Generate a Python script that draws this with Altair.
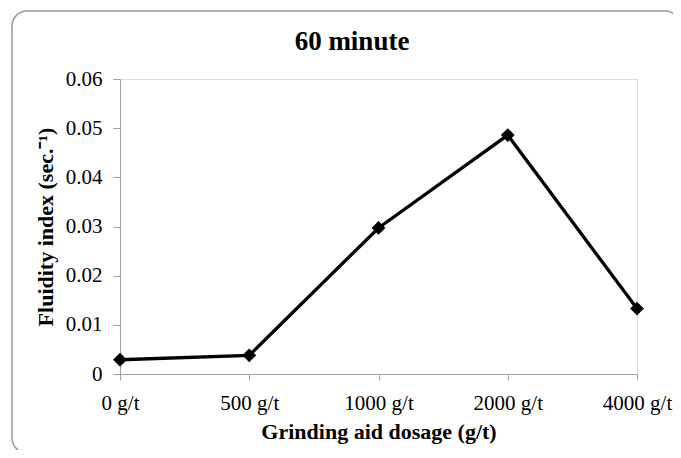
import altair as alt
import pandas as pd

categories = ["0 g/t", "500 g/t", "1000 g/t", "2000 g/t", "4000 g/t"]
values = [0.0029, 0.0038, 0.0297, 0.0486, 0.0133]
y_ticks = [0, 0.01, 0.02, 0.03, 0.04, 0.05, 0.06]
title_text = "60 minute"

df = pd.DataFrame({"dosage": categories, "fi": values})

FONT = "Liberation Serif"

x_enc = alt.X("dosage:N", sort=categories,
              scale=alt.Scale(type="point", padding=0),
              axis=alt.Axis(title="Grinding aid dosage (g/t)", labelAngle=0,
                            titleFontSize=22, titleFontWeight="bold", titleFont=FONT,
                            titleColor="black", titlePadding=8,
                            labelFont=FONT, labelFontSize=21, labelColor="#000",
                            labelPadding=12, tickSize=6, tickColor="#a0a0a0",
                            domainColor="#a0a0a0", grid=False))
y_enc = alt.Y("fi:Q", scale=alt.Scale(domain=[0, 0.06], nice=False),
              axis=alt.Axis(title="Fluidity index (sec.⁻¹)", values=y_ticks,
                            format="~g",
                            titleFontSize=22, titleFontWeight="bold", titleFont=FONT,
                            titleColor="black", titlePadding=8,
                            labelFont=FONT, labelFontSize=21, labelColor="#000",
                            labelPadding=11, tickSize=7, tickColor="#a0a0a0",
                            domainColor="#a0a0a0", grid=False))

line = alt.Chart(df).mark_line(color="black", strokeWidth=3.3).encode(x=x_enc, y=y_enc)
pts = alt.Chart(df).mark_point(shape="diamond", filled=True, color="black",
                               size=190, opacity=1).encode(x=x_enc, y=y_enc)

single = alt.Data(values=[{"t": title_text}])

frame = alt.Chart(single).mark_rect(
    fill=None, stroke="#999999", strokeWidth=1.5, cornerRadius=15, clip=False
).encode(x=alt.value(-108), x2=alt.value(560), y=alt.value(-68), y2=alt.value(374))

title = alt.Chart(single).mark_text(
    font=FONT, fontSize=27, fontWeight="bold", color="black",
    align="center", baseline="alphabetic", clip=False
).encode(text="t:N", x=alt.value(232), y=alt.value(-29))

chart = alt.layer(frame, line, pts, title).properties(
    width=517, height=295,
    autosize=alt.AutoSizeParams(type="none"),
    padding={"left": 112, "top": 71, "right": 36, "bottom": 76},
).configure_view(stroke="#404040", strokeWidth=1).configure(background="white")

chart.save("out.html", embed_options={"renderer": "svg", "actions": False})
